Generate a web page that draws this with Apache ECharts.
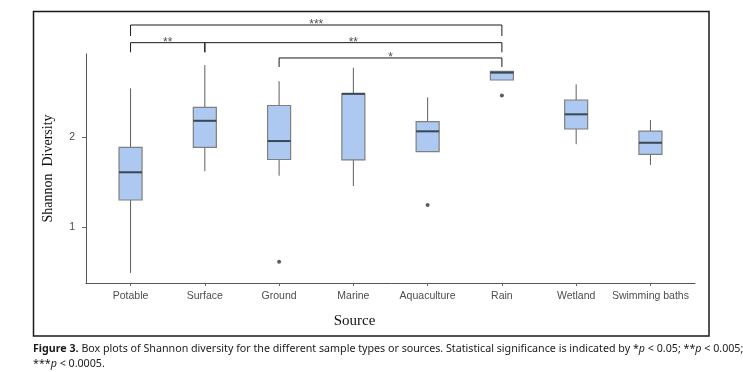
<!DOCTYPE html>
<html>
<head>
<meta charset="utf-8">
<script src="https://cdn.jsdelivr.net/npm/echarts@6/dist/echarts.min.js"></script>
<style>
  html, body { margin: 0; padding: 0; background: #fff; }
  #main { width: 743px; height: 372px; }
</style>
</head>
<body>
<div id="main"></div>
<script>
// Shannon diversity per source
const categories = ['Potable', 'Surface', 'Ground', 'Marine', 'Aquaculture', 'Rain', 'Wetland', 'Swimming baths'];
const whiskerLow = [0.49, 1.62, 1.57, 1.455, 1.837, 2.633, 1.92, 1.689];
const q1 = [1.30, 1.885, 1.75, 1.745, 1.837, 2.633, 2.089, 1.808];
const median = [1.608, 2.18, 1.955, 2.48, 2.063, 2.715, 2.252, 1.936];
const q3 = [1.885, 2.33, 2.35, 2.48, 2.17, 2.73, 2.411, 2.066];
const whiskerHigh = [2.54, 2.80, 2.62, 2.77, 2.44, 2.73, 2.585, 2.189];
// outliers: [category index (1-based), value]
const outliers = [[3, 0.615], [5, 1.245], [6, 2.46]];
const yTicks = [1, 2];
// significance brackets: from / to category, bracket top, tip bottom, label
const brackets = [
  { from: 1, to: 6, top: 3.244, tip: 3.122, label: '***' },
  { from: 1, to: 2, top: 3.048, tip: 2.941, label: '**' },
  { from: 2, to: 6, top: 3.048, tip: 2.941, label: '**' },
  { from: 3, to: 6, top: 2.878, tip: 2.778, label: '*' }
];

const chart = echarts.init(document.getElementById('main'));

const boxData = categories.map((c, i) => [i + 1, whiskerLow[i], q1[i], median[i], q3[i], whiskerHigh[i]]);
const xTicks = categories.map((c, i) => i + 1);

const bracketSeries = brackets.map(b => ({
  type: 'line',
  clip: false,
  silent: true,
  symbol: 'none',
  lineStyle: { color: '#1a1a1a', width: 1 },
  data: [[b.from, b.tip], [b.from, b.top], [b.to, b.top], [b.to, b.tip]]
}));

const captionFont = "'Noto Sans', 'Open Sans'";
const captionSize = 10.7;

const option = {
  animation: false,
  backgroundColor: '#fff',
  grid: { left: 86, top: 54, width: 609, height: 229 },
  xAxis: {
    type: 'value',
    min: 0.4,
    max: 8.6,
    name: 'Source',
    nameLocation: 'middle',
    nameGap: 31,
    nameTextStyle: { fontFamily: 'Liberation Serif', fontSize: 15, color: '#111', padding: [0, 72, 0, 0] },
    axisLine: { show: true, lineStyle: { color: '#555', width: 1 } },
    axisTick: { show: true, length: 3, customValues: xTicks, lineStyle: { color: '#666' } },
    axisLabel: {
      customValues: xTicks,
      margin: 8,
      fontFamily: 'Liberation Sans',
      fontSize: 10.5,
      color: '#4d4d4d',
      formatter: v => categories[Math.round(v) - 1]
    },
    splitLine: { show: false }
  },
  yAxis: {
    type: 'value',
    min: 0.378,
    max: 2.922,
    name: 'Shannon  Diversity',
    nameLocation: 'middle',
    nameGap: 31,
    nameTextStyle: { fontFamily: 'Liberation Serif', fontSize: 14, color: '#111' },
    axisLine: { show: true, lineStyle: { color: '#555', width: 1 } },
    axisTick: { show: true, length: 4, customValues: yTicks, lineStyle: { color: '#666' } },
    axisLabel: { customValues: yTicks, margin: 11, fontFamily: 'Liberation Sans', fontSize: 10.5, color: '#4d4d4d' },
    splitLine: { show: false }
  },
  series: [
    {
      type: 'custom',
      data: boxData,
      renderItem: function (params, api) {
        const x = api.value(0);
        const lo = api.coord([x, api.value(1)]);
        const b1 = api.coord([x, api.value(2)]);
        const md = api.coord([x, api.value(3)]);
        const b3 = api.coord([x, api.value(4)]);
        const hi = api.coord([x, api.value(5)]);
        const w = api.size([0.31, 0])[0];
        const whisker = { stroke: '#5f5f5f', lineWidth: 1 };
        return {
          type: 'group',
          children: [
            { type: 'line', shape: { x1: lo[0], y1: lo[1], x2: b1[0], y2: b1[1] }, style: whisker },
            { type: 'line', shape: { x1: b3[0], y1: b3[1], x2: hi[0], y2: hi[1] }, style: whisker },
            {
              type: 'rect',
              shape: { x: b3[0] - w / 2, y: b3[1], width: w, height: b1[1] - b3[1] },
              style: { fill: '#adc9f1', stroke: '#7f7f7f', lineWidth: 1.2 }
            },
            {
              type: 'line',
              shape: { x1: md[0] - w / 2, y1: md[1], x2: md[0] + w / 2, y2: md[1] },
              style: { stroke: '#3a4652', lineWidth: 2 }
            }
          ]
        };
      }
    },
    {
      type: 'scatter',
      data: outliers,
      symbolSize: 4,
      itemStyle: { color: '#333' }
    },
    ...bracketSeries,
    {
      type: 'scatter',
      clip: false,
      silent: true,
      symbolSize: 0,
      data: brackets.map(b => [(b.from + b.to) / 2, b.top, b.label]),
      label: {
        show: true,
        position: 'inside',
        offset: [0, 0],
        fontFamily: 'Liberation Sans',
        fontSize: 12,
        color: '#222',
        formatter: p => p.value[2]
      }
    }
  ],
  graphic: [
    {
      type: 'rect',
      silent: true,
      shape: { x: 33.5, y: 11.5, width: 675.5, height: 324.5 },
      style: { fill: 'none', stroke: '#1a1a1a', lineWidth: 1.5 }
    },
    {
      type: 'text',
      left: 33,
      top: 341,
      silent: true,
      style: {
        text: '{b|Figure 3.} Box plots of Shannon diversity for the different sample types or sources. Statistical significance is indicated by *{i|p} < 0.05; **{i|p} < 0.005;\n***{i|p} < 0.0005.',
        fontFamily: captionFont,
        fontSize: captionSize,
        lineHeight: 15,
        fill: '#1a1a1a',
        rich: {
          b: { fontWeight: 'bold', fontFamily: captionFont, fontSize: captionSize, fill: '#1a1a1a' },
          i: { fontStyle: 'italic', fontFamily: captionFont, fontSize: captionSize, fill: '#1a1a1a' }
        }
      }
    }
  ]
};

chart.setOption(option);
</script>
</body>
</html>
